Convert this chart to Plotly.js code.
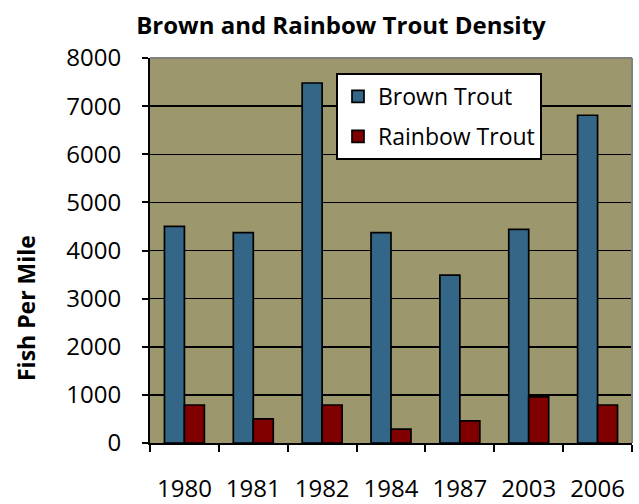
<!DOCTYPE html>
<html>
<head>
<meta charset="utf-8">
<script src="https://cdn.plot.ly/plotly-3.0.1.min.js"></script>
<style>html,body{margin:0;padding:0;background:#fff;}#chart{width:639px;height:504px;}</style>
</head>
<body>
<div id="chart"></div>
<script>
const years = ["1980", "1981", "1982", "1984", "1987", "2003", "2006"];
const brownTrout = [4500, 4370, 7480, 4370, 3490, 4440, 6810];
const rainbowTrout = [790, 500, 790, 290, 460, 960, 790];
const yTicks = [0, 1000, 2000, 3000, 4000, 5000, 6000, 7000, 8000];

const FONT = "'Open Sans', Lato, sans-serif";

const traces = [
  {type: "bar", name: "Brown Trout", x: years, y: brownTrout, legendgroup: "a",
   marker: {color: "#336687", line: {color: "#000", width: 1.7}}, hoverinfo: "skip"},
  {type: "bar", name: "Rainbow Trout", x: years, y: rainbowTrout, legendgroup: "b",
   marker: {color: "#800000", line: {color: "#000", width: 1.7}}, hoverinfo: "skip"}
];

const layout = {
  width: 639, height: 504,
  margin: {l: 150, r: 7, t: 58, b: 61, pad: 0},
  paper_bgcolor: "#ffffff",
  plot_bgcolor: "#9C976C",
  font: {family: FONT, color: "#000", size: 22},
  title: {text: "<b>Brown and Rainbow Trout Density</b>", x: 341/639, xanchor: "center",
          y: 1 - 26/504, yanchor: "middle", yref: "container",
          font: {family: FONT, size: 24, color: "#000"}},
  barmode: "group", bargap: 0.42, bargroupgap: 0,
  xaxis: {type: "category", tickson: "boundaries", ticks: "outside", ticklen: 7,
          tickwidth: 2, tickcolor: "#000", showline: true, linecolor: "#000", linewidth: 2,
          showgrid: false, zeroline: false, ticklabelstandoff: 23,
          tickfont: {family: FONT, size: 24, color: "#000"}},
  yaxis: {range: [0, 8000], tickvals: yTicks, ticktext: yTicks.map(String),
          ticks: "outside", ticklen: 6, tickwidth: 2, tickcolor: "#000",
          showline: true, linecolor: "#000", linewidth: 2,
          showgrid: true, gridcolor: "#000", gridwidth: 1.5, zeroline: false,
          ticklabelstandoff: 16, tickfont: {family: FONT, size: 24, color: "#000"}},
  legend: {x: (336-150)/482, y: (443-73)/385, xanchor: "left", yanchor: "top",
           bgcolor: "#ffffff", bordercolor: "#000", borderwidth: 2,
           traceorder: "grouped", tracegroupgap: 7,
           font: {family: FONT, size: 23, color: "#000"}},
  annotations: [{text: "<b>Fish Per Mile</b>", xref: "paper", yref: "paper",
                 x: -124/482, y: (443-308)/385, xanchor: "center", yanchor: "middle",
                 textangle: -90, showarrow: false,
                 font: {family: FONT, size: 23, color: "#000"}}],
  shapes: [
    {type: "line", xref: "paper", yref: "paper", x0: 0, x1: 1, y0: 1, y1: 1,
     line: {color: "#808080", width: 2}},
    {type: "line", xref: "paper", yref: "paper", x0: 1, x1: 1, y0: 0, y1: 1,
     line: {color: "#808080", width: 2}}
  ]
};

Plotly.newPlot("chart", traces, layout, {staticPlot: true, displayModeBar: false});
</script>
</body>
</html>
